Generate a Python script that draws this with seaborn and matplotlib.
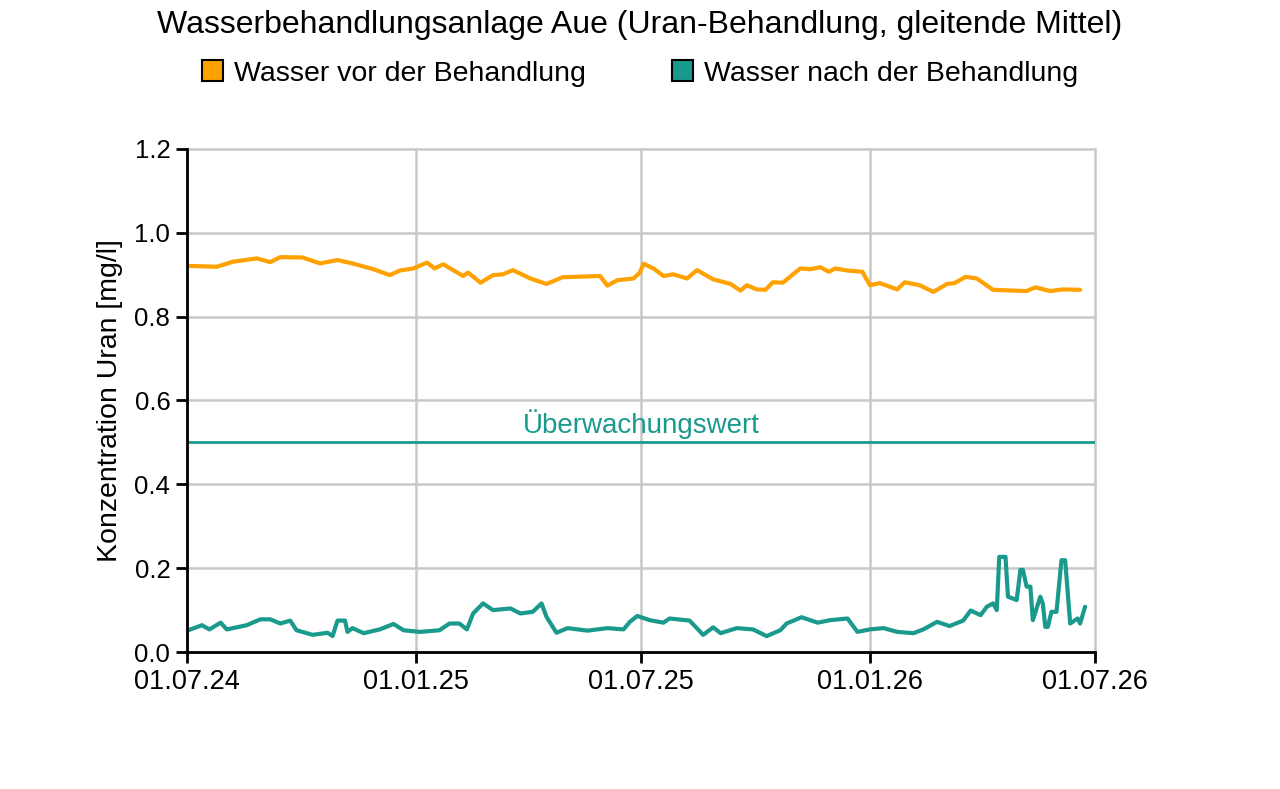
import numpy as np
import pandas as pd
import seaborn as sns
import matplotlib.pyplot as plt
from matplotlib.patches import Patch

# Data (days since 01.07.2024, concentration mg/l)
start = pd.Timestamp("2024-07-01")

vor_days = [2, 24, 37, 56, 67, 75, 93, 107, 121, 133, 150, 163, 171, 182, 193, 199,
            206, 222, 226, 236, 246, 254, 262, 276, 289, 302, 332, 338, 346, 359,
            364, 367, 375, 383, 391, 402, 410, 423, 437, 445, 450, 458, 465, 471,
            479, 493, 501, 509, 516, 521, 531, 543, 549, 557, 571, 577, 589, 600,
            611, 617, 626, 635, 648, 675, 682, 694, 704, 718]
vor_vals = [0.921, 0.919, 0.931, 0.939, 0.930, 0.942, 0.941, 0.927, 0.935, 0.927,
            0.913, 0.899, 0.910, 0.915, 0.929, 0.915, 0.925, 0.897, 0.905, 0.881,
            0.899, 0.901, 0.911, 0.891, 0.878, 0.894, 0.897, 0.874, 0.887, 0.891,
            0.905, 0.926, 0.915, 0.897, 0.901, 0.891, 0.911, 0.889, 0.878, 0.862,
            0.875, 0.865, 0.864, 0.882, 0.881, 0.915, 0.913, 0.918, 0.907, 0.915,
            0.910, 0.907, 0.875, 0.880, 0.865, 0.882, 0.875, 0.859, 0.878, 0.880,
            0.895, 0.891, 0.864, 0.861, 0.870, 0.861, 0.865, 0.864]

nach_days = [1, 12, 18, 27, 32, 48, 59, 67, 75, 83, 88, 101, 113, 117, 121, 127,
             129, 133, 142, 155, 166, 174, 187, 203, 211, 219, 225, 230, 238, 246,
             260, 268, 278, 285, 289, 297, 306, 322, 338, 351, 356, 362, 372, 383,
             388, 404, 415, 423, 429, 442, 455, 466, 477, 482, 494, 507, 517, 531,
             539, 549, 560, 571, 584, 592, 603, 613, 624, 630, 638, 643, 648, 651,
             653, 658, 660, 667, 670, 672, 675, 678, 680, 686, 688, 690, 692, 695,
             699, 703, 706, 710, 716, 718, 722]
nach_vals = [0.052, 0.064, 0.054, 0.070, 0.054, 0.064, 0.078, 0.078, 0.068, 0.075,
             0.052, 0.041, 0.046, 0.038, 0.075, 0.075, 0.048, 0.057, 0.045, 0.054,
             0.067, 0.052, 0.048, 0.052, 0.068, 0.068, 0.054, 0.092, 0.116, 0.100,
             0.104, 0.092, 0.096, 0.116, 0.084, 0.046, 0.057, 0.051, 0.057, 0.054,
             0.072, 0.086, 0.076, 0.070, 0.080, 0.075, 0.041, 0.059, 0.045, 0.057,
             0.054, 0.038, 0.052, 0.068, 0.083, 0.070, 0.076, 0.080, 0.048, 0.054,
             0.057, 0.048, 0.045, 0.054, 0.072, 0.062, 0.075, 0.099, 0.088, 0.108,
             0.116, 0.100, 0.227, 0.227, 0.132, 0.124, 0.196, 0.196, 0.156, 0.156,
             0.076, 0.132, 0.116, 0.060, 0.060, 0.096, 0.096, 0.219, 0.219, 0.068,
             0.080, 0.068, 0.108]

grenzwert = 0.5
tick_dates = ["2024-07-01", "2025-01-01", "2025-07-01", "2026-01-01", "2026-07-01"]
tick_labels = ["01.07.24", "01.01.25", "01.07.25", "01.01.26", "01.07.26"]

orange = "#FFA100"
teal = "#1A9A8C"

vor = pd.DataFrame({"datum": start + pd.to_timedelta(vor_days, unit="D"), "wert": vor_vals})
nach = pd.DataFrame({"datum": start + pd.to_timedelta(nach_days, unit="D"), "wert": nach_vals})

sns.set_style("white")
plt.rcParams["font.family"] = ["Liberation Sans", "DejaVu Sans"]
plt.rcParams["text.color"] = "black"
plt.rcParams["axes.labelcolor"] = "black"

fig = plt.figure(figsize=(12.8, 7.89), dpi=100)
ax = fig.add_axes([0.1461, 0.1736, 0.7094, 0.6376])

sns.lineplot(data=vor, x="datum", y="wert", ax=ax, color=orange, linewidth=3)
sns.lineplot(data=nach, x="datum", y="wert", ax=ax, color=teal, linewidth=3)
ax.axhline(grenzwert, color=teal, linewidth=2)
ax.text(pd.Timestamp("2025-07-01"), grenzwert + 0.009, "Überwachungswert",
        color=teal, fontsize=20, ha="center", va="bottom")

ticks = pd.to_datetime(tick_dates)
ax.set_xlim(ticks[0], ticks[-1])
ax.set_ylim(0, 1.2)
ax.set_xticks(ticks)
ax.set_xticklabels(tick_labels)
ax.set_yticks(np.arange(0, 1.21, 0.2))
ax.yaxis.set_major_formatter(plt.FormatStrFormatter("%.1f"))
ax.grid(True, color="#c8c8c8", linewidth=1.8)
ax.set_axisbelow(True)
for gl in ax.get_xgridlines() + ax.get_ygridlines():
    gl.set_clip_on(False)

for s in ["top", "right"]:
    ax.spines[s].set_visible(False)
for s in ["left", "bottom"]:
    ax.spines[s].set_color("black")
    ax.spines[s].set_linewidth(2)
ax.tick_params(axis="both", direction="out", length=8, width=2, colors="black",
               labelsize=18.5, pad=4, left=True, bottom=True)
ax.tick_params(axis="x", labelsize=19.5)
ax.set_xlabel("")
ax.set_ylabel("Konzentration Uran [mg/l]", fontsize=20.5, labelpad=8)

fig.suptitle("Wasserbehandlungsanlage Aue (Uran-Behandlung, gleitende Mittel)",
             fontsize=23, y=0.987, va="top")
handles = [Patch(facecolor=orange, edgecolor="black", linewidth=1.5),
           Patch(facecolor=teal, edgecolor="black", linewidth=1.5)]
fig.legend(handles, ["Wasser vor der Behandlung", "Wasser nach der Behandlung"],
           loc="center", bbox_to_anchor=(0.5, 0.907), ncol=2, frameon=False,
           fontsize=20.5, handlelength=0.75, handleheight=0.75, handletextpad=0.4,
           columnspacing=3.0)

fig.savefig("out.png", dpi=100)
